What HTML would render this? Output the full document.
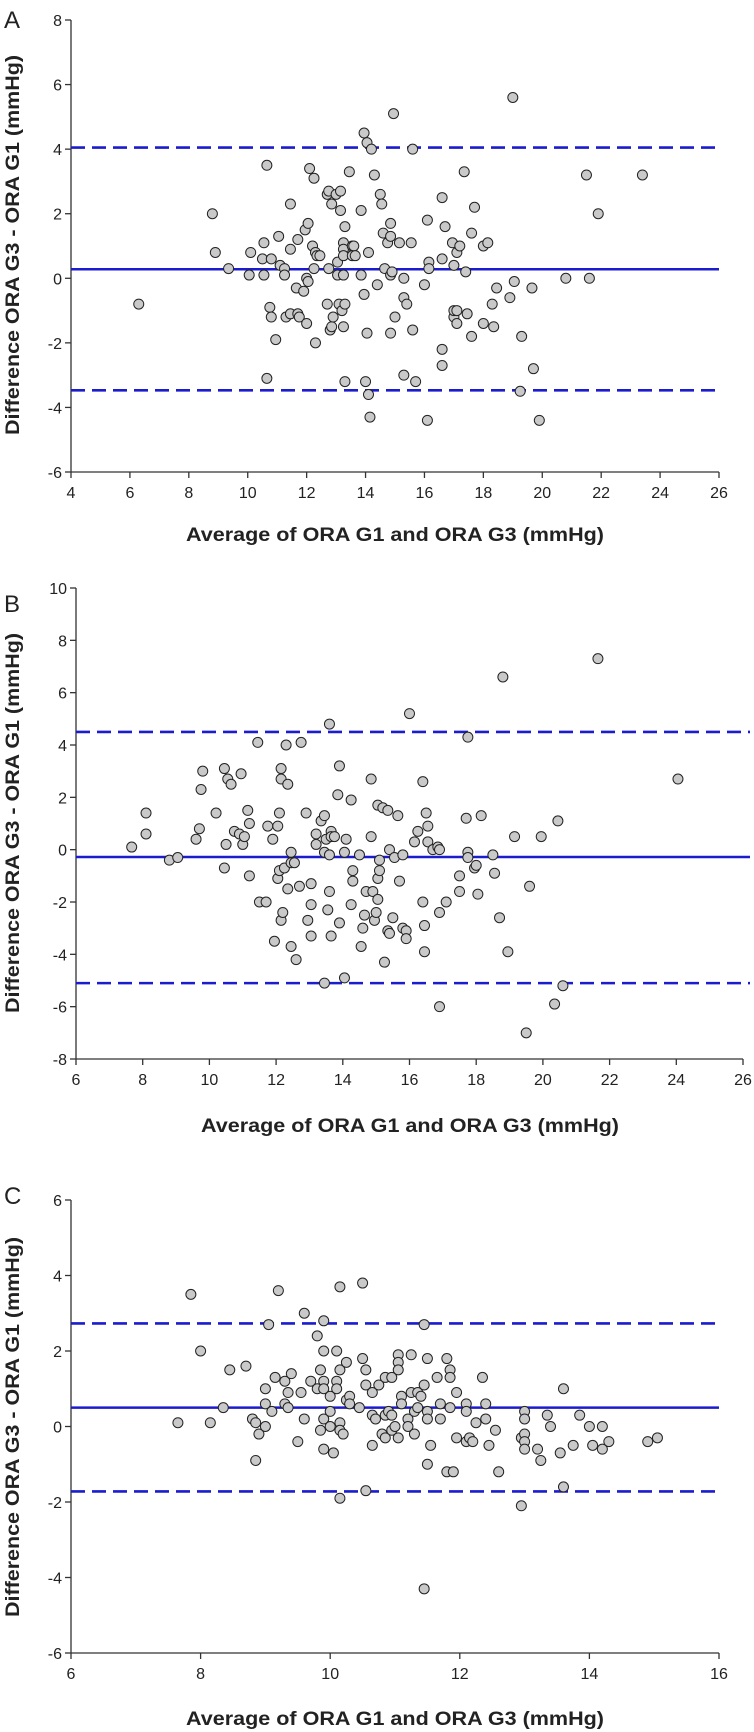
<!DOCTYPE html>
<html><head><meta charset="utf-8">
<style>
html,body{margin:0;padding:0;background:#fff;}
svg{display:block;font-family:"Liberation Sans",Arial,sans-serif;}
</style></head>
<body>
<svg id="chart" width="754" height="1732" viewBox="0 0 754 1732" xmlns="http://www.w3.org/2000/svg"></svg>
<script>
// Panel A data
const aX = [6.3,8.8,8.9,9.35,10.05,10.1,10.5,10.55,10.55,10.65,10.65,10.75,10.8,10.8,10.95,11.05,11.1,11.25,11.25,11.3,11.45,11.45,11.45,11.7,11.65,11.7,11.75,11.9,11.95,12.0,12.0,12.05,12.05,12.1,12.2,12.25,12.25,12.3,12.3,12.35,12.45,12.7,12.75,12.75,12.7,12.8,12.85,12.85,12.9,13.0,13.05,13.05,13.15,13.15,13.1,13.2,13.25,13.25,13.25,13.25,13.25,13.3,13.3,13.3,13.45,13.55,13.6,13.55,13.65,13.85,13.85,13.95,13.95,14.0,14.05,14.05,14.1,14.1,14.15,14.2,14.3,14.4,14.5,14.55,14.6,14.65,14.75,14.85,14.85,14.85,14.9,14.85,14.95,15.0,15.15,15.3,15.3,15.3,15.4,15.55,15.6,15.6,15.7,16.0,16.1,16.1,16.15,16.15,16.6,16.6,16.6,16.6,16.7,16.95,17.0,17.0,17.0,17.1,17.1,17.1,17.2,17.35,17.4,17.45,17.6,17.6,17.7,18.0,18.0,18.15,18.3,18.35,18.45,18.9,19.0,19.05,19.25,19.3,19.65,19.7,19.9,20.8,21.5,21.6,21.9,23.4];
const aY = [-0.8,2.0,0.8,0.3,0.1,0.8,0.6,1.1,0.1,3.5,-3.1,-0.9,0.6,-1.2,-1.9,1.3,0.4,0.3,0.1,-1.2,2.3,0.9,-1.1,1.2,-0.3,-1.1,-1.2,-0.4,1.5,0.0,-1.4,-0.1,1.7,3.4,1.0,3.1,0.3,0.8,-2.0,0.7,0.7,2.6,2.7,0.3,-0.8,-1.6,2.3,-1.5,-1.2,2.6,0.5,0.1,2.7,2.1,-0.8,-1.0,1.1,0.9,0.7,0.1,-1.5,1.6,-0.8,-3.2,3.3,1.0,1.0,0.7,0.7,2.1,0.1,4.5,-0.5,-3.2,-1.7,4.2,-3.6,0.8,-4.3,4.0,3.2,-0.2,2.6,2.3,1.4,0.3,1.1,1.7,1.3,0.1,0.2,-1.7,5.1,-1.2,1.1,0.0,-0.6,-3.0,-0.8,1.1,4.0,-1.6,-3.2,-0.2,1.8,-4.4,0.5,0.3,0.6,-2.2,2.5,-2.7,1.6,1.1,0.4,-1.2,-1.0,0.8,-1.4,-1.0,1.0,3.3,0.2,-1.1,1.4,-1.8,2.2,1.0,-1.4,1.1,-0.8,-1.5,-0.3,-0.6,5.6,-0.1,-3.5,-1.8,-0.3,-2.8,-4.4,0.0,3.2,0.0,2.0,3.2];
const aLines = [0.28, 4.05, -3.47];
const aXTicks = [4,6,8,10,12,14,16,18,20,22,24,26];
const aYTicks = [8,6,4,2,0,-2,-4,-6];

// Panel B data
const bX = [7.67,8.1,8.1,8.8,9.05,9.6,9.7,9.75,9.8,10.2,10.45,10.45,10.5,10.55,10.65,10.75,10.9,10.95,11.0,11.05,11.15,11.2,11.2,11.45,11.5,11.7,11.75,11.9,11.95,12.05,12.05,12.1,12.1,12.15,12.15,12.15,12.2,12.25,12.3,12.35,12.35,12.45,12.45,12.45,12.55,12.6,12.7,12.75,12.9,12.95,13.05,13.05,13.05,13.2,13.2,13.35,13.45,13.45,13.45,13.5,13.55,13.6,13.6,13.6,13.65,13.65,13.65,13.75,13.85,13.9,13.9,14.05,14.05,14.1,14.25,14.25,14.3,14.3,14.5,14.55,14.6,14.65,14.7,14.85,14.85,14.9,14.95,15.0,15.05,15.05,15.05,15.1,15.1,15.2,15.25,15.35,15.35,15.4,15.4,15.5,15.55,15.65,15.7,15.8,15.8,15.9,15.9,16.0,16.15,16.25,16.4,16.4,16.45,16.45,16.5,16.55,16.55,16.7,16.85,16.9,16.9,16.9,17.1,17.5,17.5,17.7,17.75,17.75,17.75,17.95,18.0,18.05,18.15,18.5,18.55,18.7,18.8,18.95,19.15,19.5,19.6,19.95,20.35,20.45,20.6,21.65,24.05];
const bY = [0.1,1.4,0.6,-0.4,-0.3,0.4,0.8,2.3,3.0,1.4,3.1,-0.7,0.2,2.7,2.5,0.7,0.6,2.9,0.2,0.5,1.5,1.0,-1.0,4.1,-2.0,-2.0,0.9,0.4,-3.5,0.9,-1.1,1.4,-0.8,3.1,2.7,-2.7,-2.4,-0.7,4.0,2.5,-1.5,-0.1,-0.5,-3.7,-0.5,-4.2,-1.4,4.1,1.4,-2.7,-1.3,-2.1,-3.3,0.6,0.2,1.1,1.3,-0.1,-5.1,0.4,-2.3,4.8,-0.2,-1.6,0.7,0.5,-3.3,0.5,2.1,3.2,-2.8,-0.1,-4.9,0.4,1.9,-2.1,-0.8,-1.2,-0.2,-3.7,-3.0,-2.5,-1.6,2.7,0.5,-1.6,-2.7,-2.4,1.7,-1.9,-1.1,-0.8,-0.4,1.6,-4.3,1.5,-3.1,-3.2,0.0,-2.6,-0.3,1.3,-1.2,-0.2,-3.0,-3.1,-3.4,5.2,0.3,0.7,2.6,-2.0,-2.9,-3.9,1.4,0.9,0.3,0.0,0.1,0.0,-6.0,-2.4,-2.0,-1.0,-1.6,1.2,-0.1,-0.3,4.3,-0.7,-0.6,-1.7,1.3,-0.2,-0.9,-2.6,6.6,-3.9,0.5,-7.0,-1.4,0.5,-5.9,1.1,-5.2,7.3,2.7];
const bLines = [-0.28, 4.5, -5.1];
const bXTicks = [6,8,10,12,14,16,18,20,22,24,26];
const bYTicks = [10,8,6,4,2,0,-2,-4,-6,-8];

// Panel C data
const cX = [7.65,7.85,8.0,8.15,8.35,8.45,8.7,8.8,8.85,8.85,8.9,9.0,9.0,9.0,9.05,9.1,9.15,9.2,9.3,9.3,9.35,9.35,9.4,9.5,9.55,9.6,9.6,9.7,9.8,9.8,9.85,9.85,9.9,9.9,9.9,9.9,9.9,9.9,10.0,10.0,10.0,10.05,10.1,10.1,10.1,10.15,10.15,10.15,10.15,10.15,10.2,10.25,10.25,10.3,10.3,10.45,10.5,10.5,10.55,10.55,10.55,10.65,10.65,10.65,10.7,10.75,10.8,10.85,10.85,10.85,10.9,10.95,10.95,10.95,11.0,11.05,11.05,11.05,11.05,11.1,11.1,11.2,11.2,11.25,11.25,11.3,11.3,11.35,11.35,11.4,11.45,11.45,11.45,11.5,11.5,11.5,11.5,11.55,11.65,11.7,11.7,11.8,11.8,11.85,11.85,11.85,11.9,11.95,11.95,12.1,12.1,12.1,12.15,12.2,12.25,12.35,12.4,12.4,12.45,12.55,12.6,12.95,12.95,13.0,13.0,13.0,13.0,13.0,13.2,13.25,13.35,13.4,13.55,13.6,13.6,13.75,13.85,14.0,14.05,14.2,14.2,14.3,14.9,15.05];
const cY = [0.1,3.5,2.0,0.1,0.5,1.5,1.6,0.2,0.1,-0.9,-0.2,1.0,0.6,0.0,2.7,0.4,1.3,3.6,1.2,0.6,0.9,0.5,1.4,-0.4,0.9,3.0,0.2,1.2,2.4,1.0,1.5,-0.1,2.8,2.0,1.2,1.0,0.2,-0.6,0.8,0.4,0.0,-0.7,2.0,1.2,1.0,3.7,1.5,0.1,-0.1,-1.9,-0.2,1.7,0.7,0.8,0.6,0.5,3.8,1.8,1.5,1.1,-1.7,0.9,0.3,-0.5,0.2,1.1,-0.2,1.3,0.3,-0.3,0.4,-0.1,1.3,0.3,0.0,1.9,1.7,1.5,-0.3,0.8,0.6,0.2,0.0,1.9,0.9,0.4,-0.2,0.9,0.5,0.8,2.7,1.1,-4.3,1.8,0.4,0.2,-1.0,-0.5,1.3,0.6,0.2,1.8,-1.2,1.5,1.3,0.5,-1.2,0.9,-0.3,0.6,0.4,-0.4,-0.3,-0.4,0.1,1.3,0.6,0.2,-0.5,-0.1,-1.2,-0.3,-2.1,0.4,0.2,-0.2,-0.4,-0.6,-0.6,-0.9,0.3,0.0,-0.7,1.0,-1.6,-0.5,0.3,0.0,-0.5,0.0,-0.6,-0.4,-0.4,-0.3];
const cLines = [0.5, 2.73, -1.72];
const cXTicks = [6,8,10,12,14,16];
const cYTicks = [6,4,2,0,-2,-4,-6];

const NS = "http://www.w3.org/2000/svg";
const svg = document.getElementById('chart');
function mk(tag, attrs, parent) {
  const e = document.createElementNS(NS, tag);
  for (const k in attrs) e.setAttribute(k, attrs[k]);
  (parent || svg).appendChild(e);
  return e;
}

function drawPanel(cfg) {
  const g = mk('g', {});
  
  
  const sx = v => cfg.px0 + (v - cfg.xmin) / (cfg.xmax - cfg.xmin) * (cfg.px1 - cfg.px0);
  const sy = v => cfg.py0 + (cfg.ymax - v) / (cfg.ymax - cfg.ymin) * (cfg.py1 - cfg.py0);

  const lab = mk('text', {x: cfg.labX, y: cfg.labY, 'font-size': 24, fill: '#222'}, g);
  lab.textContent = cfg.id.toUpperCase();
  
  

  // axes
  const ax = mk('path', {d: `M${cfg.px0} ${cfg.py0}V${cfg.py1}H${cfg.px1}`, fill: 'none', stroke: '#333', 'stroke-width': 1.3}, g);
  
  

  cfg.yTicks.forEach(t => {
    const y = sy(t);
    mk('line', {x1: cfg.px0 - 6, x2: cfg.px0, y1: y, y2: y, stroke: '#333', 'stroke-width': 1.3}, g);
    const tx = mk('text', {x: cfg.px0 - 9, y: y + 6, 'font-size': 16, 'text-anchor': 'end', fill: '#222'}, g);
    tx.textContent = t;
    
    
  });
  cfg.xTicks.forEach(t => {
    const x = sx(t);
    mk('line', {x1: x, x2: x, y1: cfg.py1, y2: cfg.py1 + 6, stroke: '#333', 'stroke-width': 1.3}, g);
    const tx = mk('text', {x: x, y: cfg.py1 + 26, 'font-size': 16, 'text-anchor': 'middle', fill: '#222'}, g);
    tx.textContent = t;
    
    
  });

  // reference lines
  cfg.lines.forEach((v, i) => {
    const y = sy(v);
    const ln = mk('line', {x1: cfg.px0, x2: cfg.lineEnd, y1: y, y2: y, stroke: '#1c1ccf', 'stroke-width': 2.6}, g);
    if (i > 0) ln.setAttribute('stroke-dasharray', '14 7');
    
    
  });

  // points
  cfg.xs.forEach((xv, i) => {
    const c = mk('circle', {cx: sx(xv), cy: sy(cfg.ys[i]), r: 5, fill: '#c9c9c9', stroke: '#222', 'stroke-width': 1}, g);
    
    
  });

  // titles
  const xt = mk('text', {x: cfg.xtX, y: cfg.xtY, 'font-size': 19, 'font-weight': 'bold', 'text-anchor': 'middle', fill: '#222', textLength: 418, lengthAdjust: 'spacingAndGlyphs'}, g);
  xt.textContent = 'Average of ORA G1 and ORA G3 (mmHg)';
  
  
  const yt = mk('text', {x: 0, y: 0, 'font-size': 19, 'font-weight': 'bold', 'text-anchor': 'middle', fill: '#222', textLength: 380, lengthAdjust: 'spacingAndGlyphs', transform: `translate(19 ${cfg.ytY}) rotate(-90)`}, g);
  yt.textContent = 'Difference ORA G3 - ORA G1 (mmHg)';
  
  
}

drawPanel({id: 'a', xs: aX, ys: aY, lines: aLines, xTicks: aXTicks, yTicks: aYTicks,
  xmin: 4, xmax: 26, ymin: -6, ymax: 8, px0: 71, px1: 719, py0: 20, py1: 472, lineEnd: 719,
  labX: 4, labY: 28, xtX: 395, xtY: 541, ytY: 245});
drawPanel({id: 'b', xs: bX, ys: bY, lines: bLines, xTicks: bXTicks, yTicks: bYTicks,
  xmin: 6, xmax: 26, ymin: -8, ymax: 10, px0: 76, px1: 743, py0: 588, py1: 1059, lineEnd: 750,
  labX: 4, labY: 612, xtX: 410, xtY: 1132, ytY: 823});
drawPanel({id: 'c', xs: cX, ys: cY, lines: cLines, xTicks: cXTicks, yTicks: cYTicks,
  xmin: 6, xmax: 16, ymin: -6, ymax: 6, px0: 71, px1: 719, py0: 1200, py1: 1653, lineEnd: 719,
  labX: 4, labY: 1204, xtX: 395, xtY: 1725, ytY: 1427});
</script>
</body></html>
